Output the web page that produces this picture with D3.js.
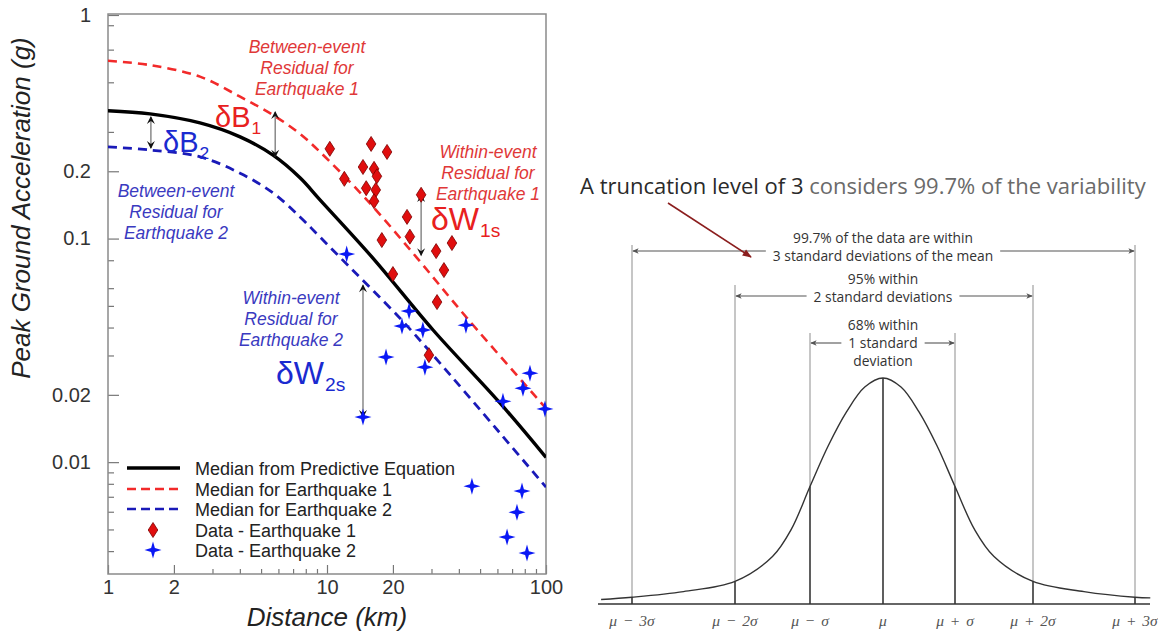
<!DOCTYPE html>
<html>
<head>
<meta charset="utf-8">
<script src="https://cdn.jsdelivr.net/npm/d3@7"></script>
<style>
body { margin: 0; background: #fff; }
svg { display: block; }
</style>
</head>
<body>
<div class="content"></div>
<script>
// ---- left chart: attenuation curves and records ----
var medianDist = [1, 1.555, 2.63, 4.01, 5.67, 7.53, 9.29, 16.2, 30.5, 61.6, 100];
var medianPga  = [0.373, 0.361, 0.329, 0.285, 0.236, 0.187, 0.149, 0.0818, 0.0390, 0.0184, 0.0105];
var eq1Dist = [1, 1.555, 2.63, 4.01, 5.67, 7.53, 9.29, 15.2, 25.8, 43.6, 100];
var eq1Pga  = [0.624, 0.597, 0.530, 0.431, 0.357, 0.294, 0.244, 0.149, 0.0818, 0.0441, 0.0174];
var eq2Dist = [1, 1.555, 2.63, 4.01, 5.67, 7.53, 9.29, 11.8, 21.5, 30.5, 61.6, 100];
var eq2Pga  = [0.257, 0.249, 0.232, 0.196, 0.160, 0.125, 0.1016, 0.0801, 0.0441, 0.0301, 0.0135, 0.00773];

var data1Dist = [10.3, 15.9, 18.8, 14.6, 16.4, 16.9, 12.0, 15.1, 16.7, 16.4, 26.9, 23.2, 23.9, 17.8, 37.2, 31.5, 34.2, 20.0, 31.8, 29.2];
var data1Pga  = [0.252, 0.265, 0.244, 0.209, 0.205, 0.190, 0.185, 0.168, 0.165, 0.147, 0.157, 0.125, 0.102, 0.0985, 0.0955, 0.0879, 0.0723, 0.0694, 0.0520, 0.0301];
var data2Dist = [12.3, 23.7, 22.0, 27.4, 43.1, 18.6, 28.0, 84.5, 78.5, 63.6, 98.9, 14.6, 45.9, 77.7, 73.7, 66.4, 81.9];
var data2Pga  = [0.0852, 0.0474, 0.0406, 0.0390, 0.0410, 0.0295, 0.0266, 0.0250, 0.0214, 0.0187, 0.0173, 0.0159, 0.00781, 0.00742, 0.00597, 0.00462, 0.00392];

var xTickLabels = [1, 2, 10, 20, 100];
var xMinorTicks = [3, 4, 5, 6, 7, 8, 9, 30, 40, 50, 60, 70, 80, 90];
var yTickLabels = [1, 0.2, 0.1, 0.02, 0.01];
var yMinorTicks = [0.9, 0.7, 0.5, 0.3, 0.08, 0.06, 0.05, 0.04, 0.03, 0.009, 0.008, 0.007, 0.006, 0.005, 0.004];

var legendLabels = ["Median from Predictive Equation", "Median for Earthquake 1", "Median for Earthquake 2", "Data - Earthquake 1", "Data - Earthquake 2"];

// residual arrows: [distance, pga from, pga to]
var residArrows = [[5.8, 0.368, 0.232], [1.57, 0.350, 0.254], [26.9, 0.1565, 0.0843], [14.6, 0.0619, 0.0159]];

// ---- right chart: normal distribution ----
var sigmaLevels = [-3, -2, -1, 0, 1, 2, 3];
var sigmaLabels = ["μ − 3σ", "μ − 2σ", "μ − σ", "μ", "μ + σ", "μ + 2σ", "μ + 3σ"];
var bellZ = [-3.3, -3, -2.5, -2, -1.5, -1.25, -1, -0.75, -0.5, -0.25, 0, 0.25, 0.5, 0.75, 1, 1.25, 1.5, 2, 2.5, 3, 3.15];
var bellH = [0.02, 0.03, 0.055, 0.10, 0.21, 0.33, 0.52, 0.70, 0.85, 0.96, 1, 0.96, 0.85, 0.70, 0.52, 0.33, 0.21, 0.10, 0.055, 0.03, 0.027];
var rangeTexts = [
  ["99.7% of the data are within", "3 standard deviations of the mean"],
  ["95% within", "2 standard deviations"],
  ["68% within", "1 standard", "deviation"]
];

var width = 1158, height = 631;
var svg = d3.select(".content").append("svg").attr("width", width).attr("height", height);
var defs = svg.append("defs");

defs.append("marker").attr("id", "ah").attr("viewBox", "-8 -5 10 10")
  .attr("markerWidth", 10).attr("markerHeight", 10).attr("markerUnits", "userSpaceOnUse")
  .attr("orient", "auto-start-reverse")
  .append("path").attr("d", "M-7,-4 L1,0 L-7,4 L-4,0 Z").attr("fill", "#111");
defs.append("marker").attr("id", "ahGray").attr("viewBox", "-8 -5 10 10")
  .attr("markerWidth", 8).attr("markerHeight", 8).attr("markerUnits", "userSpaceOnUse")
  .attr("orient", "auto-start-reverse")
  .append("path").attr("d", "M-7,-3.5 L1,0 L-7,3.5 L-5,0 Z").attr("fill", "#555");
defs.append("marker").attr("id", "ahRed").attr("viewBox", "-10 -5 12 10")
  .attr("markerWidth", 11).attr("markerHeight", 10).attr("markerUnits", "userSpaceOnUse")
  .attr("orient", "auto")
  .append("path").attr("d", "M-9,-4 L1,0 L-9,4 Z").attr("fill", "#8b1e1e");
defs.append("clipPath").attr("id", "plotClip").append("rect")
  .attr("x", 108).attr("y", 14).attr("width", 438).attr("height", 560);

var x = d3.scaleLog().domain([1, 100]).range([108, 546]);
var y = d3.scaleLog().domain([0.00316, 1]).range([574, 15]);

var left = svg.append("g").attr("font-family", "'Liberation Sans', Arial, sans-serif");

// axes
function styleAxis(g) {
  g.select(".domain").remove();
  g.selectAll(".tick line").attr("stroke", "#777").attr("stroke-width", 1.2);
  g.selectAll(".tick text").attr("fill", "#333").attr("font-size", 20).attr("font-family", "'Liberation Sans', Arial, sans-serif");
}
left.append("g").attr("transform", "translate(108,0)")
  .call(d3.axisLeft(y).tickValues(yTickLabels).tickSize(-11).tickPadding(17).tickFormat(d3.format("")))
  .call(styleAxis);
left.append("g").attr("transform", "translate(108,0)")
  .call(d3.axisLeft(y).tickValues(yMinorTicks).tickSize(-6).tickFormat(""))
  .call(styleAxis);
left.append("g").attr("transform", "translate(0,574)")
  .call(d3.axisBottom(x).tickValues(xTickLabels).tickSize(-9).tickPadding(6).tickFormat(d3.format("")))
  .call(styleAxis);
left.append("g").attr("transform", "translate(0,574)")
  .call(d3.axisBottom(x).tickValues(xMinorTicks).tickSize(-5).tickFormat(""))
  .call(styleAxis);

left.append("rect").attr("x", 108).attr("y", 14).attr("width", 438).attr("height", 560)
  .attr("fill", "none").attr("stroke", "#8a8a8a").attr("stroke-width", 1.5);

left.append("text").attr("transform", "translate(30,208) rotate(-90)")
  .attr("text-anchor", "middle").attr("font-size", 26).attr("font-style", "italic").attr("fill", "#222")
  .text("Peak Ground Acceleration (g)");
left.append("text").attr("x", 327).attr("y", 626)
  .attr("text-anchor", "middle").attr("font-size", 26).attr("font-style", "italic").attr("fill", "#222")
  .text("Distance (km)");

// curves
var line = d3.line().x(function(d){ return x(d[0]); }).y(function(d){ return y(d[1]); }).curve(d3.curveCatmullRom.alpha(0.5));
var curves = left.append("g").attr("clip-path", "url(#plotClip)");
curves.append("path").datum(d3.zip(eq1Dist, eq1Pga)).attr("d", line)
  .attr("fill", "none").attr("stroke", "#f22a2a").attr("stroke-width", 2.6).attr("stroke-dasharray", "9,6");
curves.append("path").datum(d3.zip(eq2Dist, eq2Pga)).attr("d", line)
  .attr("fill", "none").attr("stroke", "#1a1ab8").attr("stroke-width", 2.8).attr("stroke-dasharray", "9,6");
curves.append("path").datum(d3.zip(medianDist, medianPga)).attr("d", line)
  .attr("fill", "none").attr("stroke", "#000").attr("stroke-width", 3.4);

// residual arrows
left.append("g").selectAll("line").data(residArrows).enter().append("line")
  .attr("x1", function(d){ return x(d[0]); }).attr("x2", function(d){ return x(d[0]); })
  .attr("y1", function(d){ return y(d[1]); }).attr("y2", function(d){ return y(d[2]); })
  .attr("stroke", "#777").attr("stroke-width", 1.3)
  .attr("marker-start", "url(#ah)").attr("marker-end", "url(#ah)");

// markers
var diamondPath = "M0,-7.5 L4.8,0 L0,7.5 L-4.8,0 Z";
var starPath = "M0,-8.5 L1.9,-1.9 L8.5,0 L1.9,1.9 L0,8.5 L-1.9,1.9 L-8.5,0 L-1.9,-1.9 Z";
left.append("g").selectAll("path").data(d3.zip(data1Dist, data1Pga)).enter().append("path")
  .attr("transform", function(d){ return "translate(" + x(d[0]) + "," + y(d[1]) + ")"; })
  .attr("d", diamondPath).attr("fill", "#e00e0e").attr("stroke", "#7a0000").attr("stroke-width", 0.8);
left.append("g").selectAll("path").data(d3.zip(data2Dist, data2Pga)).enter().append("path")
  .attr("transform", function(d){ return "translate(" + x(d[0]) + "," + y(d[1]) + ")"; })
  .attr("d", starPath).attr("fill", "#0a18f5");

// annotations
function block(g, lines, cx, y0, color) {
  var t = g.append("text").attr("text-anchor", "middle").attr("font-size", 17.5)
    .attr("font-style", "italic").attr("fill", color);
  lines.forEach(function(s, i){ t.append("tspan").attr("x", cx).attr("y", y0 + i * 21).text(s); });
}
block(left, ["Between-event", "Residual for", "Earthquake 1"], 307, 53, "#e03838");
block(left, ["Between-event", "Residual for", "Earthquake 2"], 176, 197, "#3a3ac0");
block(left, ["Within-event", "Residual for", "Earthquake 1"], 488, 158, "#e03838");
block(left, ["Within-event", "Residual for", "Earthquake 2"], 291, 304, "#3a3ac0");

function delta(g, main, sub, x0, y0, size, color) {
  var t = g.append("text").attr("x", x0).attr("y", y0).attr("font-size", size).attr("fill", color);
  t.append("tspan").text(main);
  t.append("tspan").attr("font-size", size * 0.6).attr("dy", 7).attr("dx", 1).text(sub);
}
delta(left, "δB", "1", 215, 127, 29, "#e82020");
delta(left, "δB", "2", 163, 152, 29, "#1a2ad0");
delta(left, "δW", "1s", 431, 230, 32, "#e82020");
delta(left, "δW", "2s", 276, 384, 32, "#1a2ad0");

// legend
var legend = left.append("g");
var legendY = [468, 489, 509, 530, 550];
legend.append("line").attr("x1", 127).attr("x2", 180).attr("y1", legendY[0]).attr("y2", legendY[0])
  .attr("stroke", "#000").attr("stroke-width", 3.6);
legend.append("line").attr("x1", 127).attr("x2", 180).attr("y1", legendY[1]).attr("y2", legendY[1])
  .attr("stroke", "#f22a2a").attr("stroke-width", 2.4).attr("stroke-dasharray", "9,5");
legend.append("line").attr("x1", 127).attr("x2", 180).attr("y1", legendY[2]).attr("y2", legendY[2])
  .attr("stroke", "#1a1ab8").attr("stroke-width", 2.6).attr("stroke-dasharray", "9,5");
legend.append("path").attr("transform", "translate(153," + legendY[3] + ")").attr("d", diamondPath)
  .attr("fill", "#e00e0e").attr("stroke", "#7a0000").attr("stroke-width", 0.8);
legend.append("path").attr("transform", "translate(153," + legendY[4] + ")").attr("d", starPath)
  .attr("fill", "#0a18f5");
legend.selectAll("text.lg").data(legendLabels).enter().append("text").attr("class", "lg")
  .attr("x", 195).attr("y", function(d, i){ return legendY[i] + 6.5; })
  .attr("font-size", 18).attr("fill", "#222").text(function(d){ return d; });

// ---- right chart ----
var right = svg.append("g").attr("font-family", "'Open Sans', sans-serif");
var sx = d3.scaleLinear().domain(sigmaLevels).range([632, 735, 810, 883, 955, 1033, 1135]);
var sy = d3.scaleLinear().domain([0, 1]).range([604, 378]);
var bellPts = d3.zip(bellZ, bellH);
var bellLine = d3.line().x(function(d){ return sx(d[0]); }).y(function(d){ return sy(d[1]); }).curve(d3.curveCatmullRom.alpha(0.5));
var hAt = function(z){
  for (var i = 1; i < bellZ.length; i++) {
    if (z <= bellZ[i]) { var t = (z - bellZ[i-1]) / (bellZ[i] - bellZ[i-1]); return bellH[i-1] + t * (bellH[i] - bellH[i-1]); }
  }
  return bellH[bellH.length - 1];
};

var lineTop = { 3: 245, 2: 285, 1: 333, 0: 378 };
right.append("g").selectAll("line.up").data(sigmaLevels).enter().append("line")
  .attr("x1", function(d){ return sx(d); }).attr("x2", function(d){ return sx(d); })
  .attr("y1", function(d){ return lineTop[Math.abs(d)]; }).attr("y2", sy(0))
  .attr("stroke", "#a8a8a8").attr("stroke-width", 1.3);
right.append("g").selectAll("line.in").data(sigmaLevels).enter().append("line")
  .attr("x1", function(d){ return sx(d); }).attr("x2", function(d){ return sx(d); })
  .attr("y1", function(d){ return sy(hAt(d)); }).attr("y2", sy(0))
  .attr("stroke", "#333").attr("stroke-width", 1.4);

right.append("line").attr("x1", 598).attr("x2", 1150).attr("y1", sy(0)).attr("y2", sy(0))
  .attr("stroke", "#333").attr("stroke-width", 1.4);
right.append("path").datum(bellPts).attr("d", bellLine)
  .attr("fill", "none").attr("stroke", "#333").attr("stroke-width", 1.4);

right.selectAll("text.sig").data(sigmaLabels).enter().append("text").attr("class", "sig")
  .attr("x", function(d, i){ return sx(sigmaLevels[i]); }).attr("y", 626)
  .attr("text-anchor", "middle").attr("font-family", "'Liberation Serif', serif")
  .attr("font-style", "italic").attr("font-size", 15.5).attr("word-spacing", 2).attr("fill", "#555")
  .text(function(d){ return d; });

// range brackets
var rowArrowY = [251, 296, 343];
var rowTextY = [[243, 261], [284, 302], [330, 348, 366]];
var rowArrowLine = [1, 1, 1];
rangeTexts.forEach(function(lines, r){
  var lvl = 3 - r;
  var arrowTextW = 0;
  lines.forEach(function(s, i){
    var t = right.append("text").attr("x", sx(0)).attr("y", rowTextY[r][i])
      .attr("text-anchor", "middle").attr("font-size", 13.8).attr("fill", "#333").text(s);
    if (i === rowArrowLine[r]) arrowTextW = t.node().getComputedTextLength();
  });
  var gap = arrowTextW / 2 + 7;
  right.append("line").attr("x1", sx(0) - gap).attr("x2", sx(-lvl) + 1)
    .attr("y1", rowArrowY[r]).attr("y2", rowArrowY[r])
    .attr("stroke", "#555").attr("stroke-width", 1.1).attr("marker-end", "url(#ahGray)");
  right.append("line").attr("x1", sx(0) + gap).attr("x2", sx(lvl) - 1)
    .attr("y1", rowArrowY[r]).attr("y2", rowArrowY[r])
    .attr("stroke", "#555").attr("stroke-width", 1.1).attr("marker-end", "url(#ahGray)");
});

// title and pointer
var title = right.append("text").attr("x", 580).attr("y", 194).attr("font-size", 22);
title.append("tspan").attr("fill", "#2a2a2a").text("A truncation level of 3 ");
title.append("tspan").attr("fill", "#6a6a6a").text("considers 99.7% of the variability");
right.append("line").attr("x1", 668).attr("y1", 203).attr("x2", 751).attr("y2", 257)
  .attr("stroke", "#8b1e1e").attr("stroke-width", 1.6).attr("marker-end", "url(#ahRed)");
</script>
</body>
</html>
